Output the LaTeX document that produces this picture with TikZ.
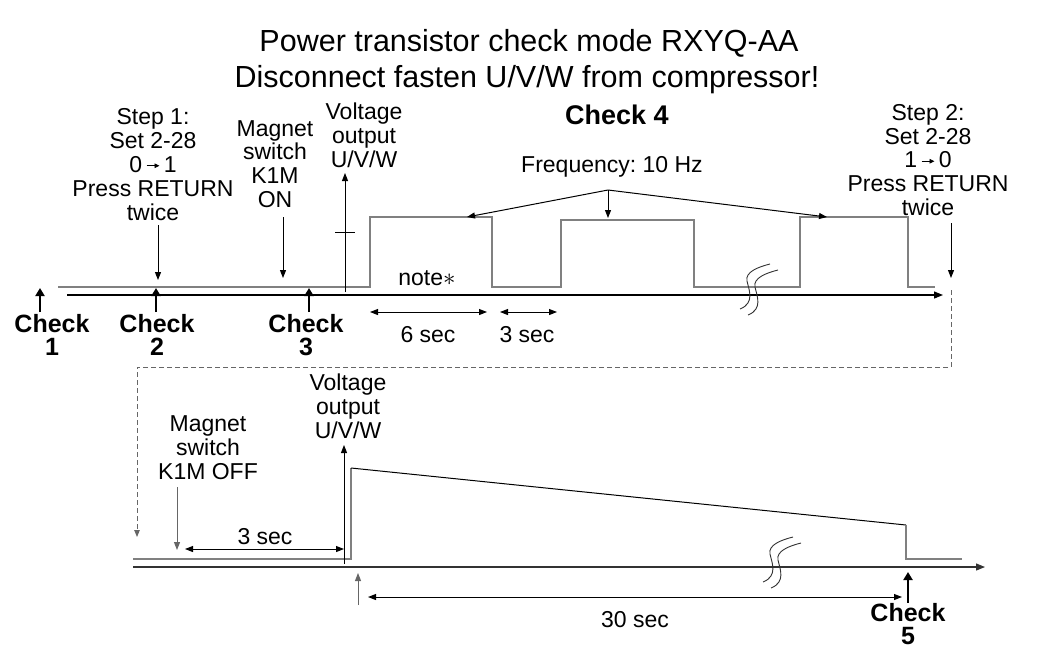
\documentclass[tikz,border=0pt]{standalone}
\usepackage{fontspec}
\setmainfont{Liberation Sans}
\usetikzlibrary{arrows.meta}
\frenchspacing
\newcommand{\smallarr}{\tikz[baseline=-0.55ex]\draw[line width=0.9pt,-{Triangle[length=5pt,width=4.5pt]}] (0,0)--(13pt,0);}
\begin{document}
\begin{tikzpicture}[x=1pt,y=-1pt,
  lbl/.style={align=center,inner sep=0pt,font=\fontsize{23}{23.8}\selectfont},
  ttl/.style={inner sep=0pt,font=\fontsize{30.5}{36}\selectfont},
  chk/.style={align=center,inner sep=0pt,font=\fontsize{25}{23.5}\selectfont\bfseries},
  sig/.style={draw=black!50,line width=1.6pt},
  axis/.style={draw=black,line width=1.2pt,-{Triangle[length=9pt,width=7pt]}},
  thin/.style={draw=black,line width=1pt},
  arr/.style={draw=black,line width=1pt,-{Triangle[length=8pt,width=6pt]}},
  darr/.style={draw=black,line width=1pt,{Triangle[length=8pt,width=6pt]}-{Triangle[length=8pt,width=6pt]}},
  chkarr/.style={draw=black,line width=2.6pt,-{Triangle[length=8pt,width=9pt]}},
  brk/.style={draw=black!80,line width=0.9pt},
  dsh/.style={draw=black!60,line width=1pt,dash pattern=on 5pt off 3pt}
]
\useasboundingbox (0,0) rectangle (1043,649);

% titles
\node[ttl] (t1) at (529,43) {Power transistor check mode RXYQ-AA};
\node[ttl] (t2) at (527,80) {Disconnect fasten U/V/W from compressor!};

% ---------- top diagram ----------
\node[lbl] (step1) at (153,164.5) {Step 1:\\Set 2-28\\0\,\smallarr\,1\\Press RETURN\\twice};
\node[lbl] (mag1) at (275,164) {Magnet\\switch\\K1M\\ON};
\node[lbl] (volt1) at (364,135) {Voltage\\output\\U/V/W};
\node[chk,font=\fontsize{27}{30}\selectfont\bfseries] (chk4) at (617,115) {Check 4};
\node[lbl] (freq) at (612,167) {Frequency: 10 Hz};
\node[lbl] (step2) at (928,160) {Step 2:\\Set 2-28\\1\,\smallarr\,0\\Press RETURN\\twice};
\node[lbl] (note) at (427,278) {note$\ast$};
\node[lbl] (six) at (428,335) {6 sec};
\node[lbl] (three1) at (527,335) {3 sec};

% checks
\node[chk] (c1) at (52,335) {Check\\1};
\node[chk] (c2) at (157,335) {Check\\2};
\node[chk] (c3) at (306,335) {Check\\3};

% signal
\path[sig] (58,287) -- (370,287) -- (370,217) -- (492,217) -- (492,287) -- (561,287) -- (561,220) -- (694,220) -- (694,287) -- (800,287) -- (800,217) -- (908,217) -- (908,287) -- (935,287);
% axis
\coordinate (ax1s) at (67,295);
\coordinate (ax1e) at (943,295);
\draw[axis] (ax1s) -- (ax1e);

% voltage arrow with tick
\coordinate (v1b) at (345,292);
\coordinate (v1t) at (345,173);
\draw[arr] (v1b) -- (v1t);
\draw[thin] (335,232) -- (355,232);

% label arrows
\coordinate (s1a) at (158,225); \coordinate (s1b) at (158,280);
\draw[arr] (s1a) -- (s1b);
\coordinate (m1a) at (283,217); \coordinate (m1b) at (283,278);
\draw[arr] (m1a) -- (m1b);
\coordinate (s2a) at (951,223); \coordinate (s2b) at (951,278);
\draw[arr] (s2a) -- (s2b);

% check arrows
\coordinate (c1a) at (40,312); \coordinate (c1b) at (40,288);
\draw[chkarr] (c1a) -- (c1b);
\coordinate (c2a) at (156,312); \coordinate (c2b) at (156,288);
\draw[chkarr] (c2a) -- (c2b);
\coordinate (c3a) at (309,312); \coordinate (c3b) at (309,288);
\draw[chkarr] (c3a) -- (c3b);

% frequency arrows
\coordinate (fq) at (608,190);
\coordinate (fq1) at (467,217);
\coordinate (fq2) at (608,218);
\coordinate (fq3) at (827,217);
\draw[arr] (fq) -- (fq1);
\draw[arr] (fq) -- (fq2);
\draw[arr] (fq) -- (fq3);

% duration arrows
\coordinate (d6a) at (370,312); \coordinate (d6b) at (487,312);
\draw[darr] (d6a) -- (d6b);
\coordinate (d3a) at (500,312); \coordinate (d3b) at (557,312);
\draw[darr] (d3a) -- (d3b);

% break marks top
\path[brk] (770,264) .. controls (758,267) and (745,272) .. (747,281) .. controls (749,290) and (755,303) .. (740,309);
\path[brk] (778,270) .. controls (766,273) and (753,278) .. (755,287) .. controls (757,296) and (763,309) .. (748,315);

% dashed connection
\coordinate (dA) at (951,290);
\coordinate (dB) at (951,367);
\coordinate (dC) at (137,367);
\coordinate (dD) at (137,537);
\draw[dsh,-{Triangle[length=7pt,width=5.5pt]}] (dA) -- (dB) -- (dC) -- (dD);

% ---------- bottom diagram ----------
\node[lbl] (mag2) at (208,447.5) {Magnet\\switch\\K1M OFF};
\node[lbl] (volt2) at (348,406.5) {Voltage\\output\\U/V/W};
\node[lbl] (three2) at (265,537) {3 sec};
\node[lbl] (thirty) at (635,620) {30 sec};
\node[chk,anchor=south] (c5) at (908,645) {Check\\5};

\path[sig] (133,559) -- (351,559) -- (351,468);
\path[thin] (351,468) -- (906,525);
\path[sig] (906,525) -- (906,559) -- (962,559);

\coordinate (ax2s) at (133,567);
\coordinate (ax2e) at (985,567);
\draw[axis,draw=black!80] (ax2s) -- (ax2e);

\coordinate (v2b) at (344,564); \coordinate (v2t) at (344,445);
\draw[arr] (v2b) -- (v2t);

\coordinate (m2a) at (177,487); \coordinate (m2b) at (177,550);
\draw[arr,draw=black!60] (m2a) -- (m2b);

\coordinate (b3a) at (185,549); \coordinate (b3b) at (344,549);
\draw[darr] (b3a) -- (b3b);

\coordinate (upa) at (358,605); \coordinate (upb) at (358,573);
\draw[arr,draw=black!60] (upa) -- (upb);

\coordinate (d30a) at (368,597); \coordinate (d30b) at (902,597);
\draw[darr] (d30a) -- (d30b);

\coordinate (c5b) at (908,572);
\draw[chkarr] (c5.north) -- (c5b);

% break marks bottom
\begin{scope}[shift={(23,273)}]
\path[brk] (770,264) .. controls (758,267) and (745,272) .. (747,281) .. controls (749,290) and (755,303) .. (740,309);
\path[brk] (778,270) .. controls (766,273) and (753,278) .. (755,287) .. controls (757,296) and (763,309) .. (748,315);
\end{scope}
\end{tikzpicture}
\end{document}
